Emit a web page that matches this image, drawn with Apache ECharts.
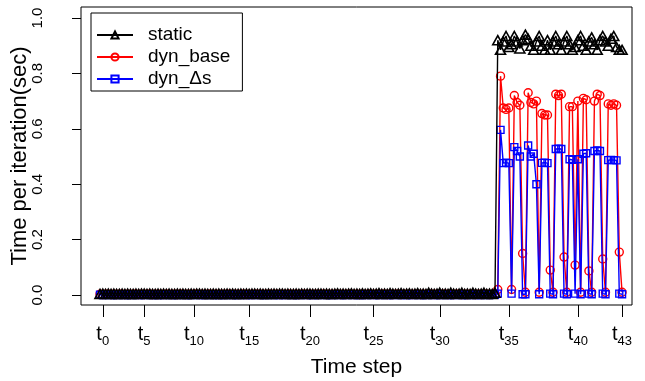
<!DOCTYPE html>
<html>
<head>
<meta charset="utf-8">
<script src="https://cdn.jsdelivr.net/npm/echarts@6/dist/echarts.min.js"></script>
<style>html,body{margin:0;padding:0;background:#fff}#c{width:645px;height:381px}</style>
</head>
<body>
<div id="c"></div>
<script>
// Tick labels: time steps and the iteration index at which each starts
const tickSteps = [0, 5, 10, 15, 20, 25, 30, 35, 40, 43];
const tickIters = [1, 16, 34, 54, 76, 99, 123, 148, 173, 189];
const yTicks = [0, 0.2, 0.4, 0.6, 0.8, 1.0];

// Time per iteration (sec), one value per iteration
const staticVals = [
0.004,0.005,0.004,0.005,0.004,0.005,0.004,0.004,0.005,0.004,0.005,0.004,0.004,0.005,0.004,0.005,
0.005,0.004,0.005,0.004,0.004,0.005,0.004,0.005,0.004,0.005,0.004,0.004,0.005,0.004,0.005,0.004,
0.004,0.005,0.004,0.005,0.005,0.004,0.005,0.004,0.004,0.005,0.004,0.005,0.004,0.004,0.005,0.004,
0.005,0.004,0.004,0.005,0.004,0.005,0.004,0.005,0.005,0.004,0.005,0.004,0.004,0.005,0.004,0.005,
0.004,0.005,0.005,0.004,0.005,0.004,0.004,0.005,0.004,0.005,0.004,0.005,0.005,0.004,0.004,0.005,
0.005,0.004,0.005,0.004,0.004,0.005,0.006,0.004,0.005,0.004,0.005,0.006,0.004,0.005,0.004,0.006,
0.004,0.005,0.006,0.004,0.005,0.007,0.004,0.005,0.004,0.007,0.005,0.004,0.005,0.007,0.004,0.005,
0.006,0.004,0.005,0.007,0.004,0.005,0.004,0.008,0.005,0.004,0.005,0.008,0.004,0.005,0.004,0.008,
0.005,0.004,0.005,0.008,0.004,0.005,0.004,0.008,0.005,0.004,0.005,0.008,0.004,0.005,0.004,0.008,
0.920,0.885,0.915,0.935,0.895,0.905,0.935,0.915,0.890,0.920,0.940,0.925,0.900,0.885,0.915,0.935,
0.900,0.885,0.920,0.885,0.915,0.935,0.905,0.885,0.915,0.935,0.905,0.885,0.895,0.920,0.935,0.900,
0.885,0.915,0.930,0.905,0.885,0.920,0.935,0.915,0.900,0.925,0.935,0.895,0.885,0.885
];
const dynBaseVals = [
0.003,0.002,0.003,0.003,0.002,0.003,0.002,0.003,0.003,0.002,0.003,0.002,0.003,0.003,0.002,0.003,
0.002,0.003,0.003,0.002,0.003,0.002,0.003,0.002,0.003,0.003,0.002,0.003,0.002,0.003,0.003,0.002,
0.003,0.002,0.003,0.003,0.002,0.003,0.002,0.003,0.003,0.002,0.003,0.002,0.003,0.002,0.003,0.003,
0.002,0.003,0.002,0.003,0.003,0.002,0.003,0.002,0.003,0.003,0.002,0.003,0.002,0.003,0.003,0.002,
0.003,0.002,0.003,0.002,0.003,0.003,0.002,0.003,0.002,0.003,0.003,0.002,0.003,0.002,0.003,0.002,
0.003,0.003,0.002,0.003,0.002,0.003,0.003,0.002,0.003,0.002,0.003,0.003,0.002,0.003,0.002,0.003,
0.002,0.003,0.003,0.002,0.003,0.002,0.003,0.003,0.002,0.003,0.002,0.003,0.003,0.002,0.003,0.002,
0.003,0.002,0.003,0.003,0.002,0.003,0.002,0.003,0.003,0.002,0.003,0.002,0.003,0.003,0.002,0.003,
0.002,0.003,0.003,0.002,0.003,0.002,0.003,0.003,0.002,0.003,0.002,0.003,0.003,0.002,0.003,0.003,
0.020,0.790,0.675,0.670,0.675,0.020,0.720,0.695,0.685,0.150,0.010,0.730,0.695,0.690,0.700,0.010,
0.655,0.650,0.650,0.090,0.010,0.725,0.720,0.725,0.137,0.010,0.680,0.680,0.108,0.700,0.010,0.710,
0.705,0.087,0.010,0.700,0.725,0.720,0.130,0.010,0.690,0.685,0.690,0.685,0.155,0.010
];
const dynDsVals = [
0.001,0.000,0.001,0.001,0.000,0.001,0.000,0.001,0.001,0.000,0.001,0.000,0.001,0.001,0.000,0.001,
0.000,0.001,0.001,0.000,0.001,0.000,0.001,0.000,0.001,0.001,0.000,0.001,0.000,0.001,0.001,0.000,
0.001,0.000,0.001,0.001,0.000,0.001,0.000,0.001,0.001,0.000,0.001,0.000,0.001,0.000,0.001,0.001,
0.000,0.001,0.000,0.001,0.001,0.000,0.001,0.000,0.001,0.001,0.000,0.001,0.000,0.001,0.001,0.000,
0.001,0.000,0.001,0.000,0.001,0.001,0.000,0.001,0.000,0.001,0.001,0.000,0.001,0.000,0.001,0.000,
0.001,0.001,0.000,0.001,0.000,0.001,0.001,0.000,0.001,0.000,0.001,0.001,0.000,0.001,0.000,0.001,
0.000,0.001,0.001,0.000,0.001,0.000,0.001,0.001,0.000,0.001,0.000,0.001,0.001,0.000,0.001,0.000,
0.001,0.000,0.001,0.001,0.000,0.001,0.000,0.001,0.001,0.000,0.001,0.000,0.001,0.001,0.000,0.001,
0.000,0.001,0.001,0.000,0.001,0.000,0.001,0.001,0.000,0.001,0.000,0.001,0.001,0.000,0.001,0.001,
0.005,0.596,0.476,0.478,0.476,0.005,0.534,0.520,0.500,0.003,0.003,0.540,0.500,0.510,0.400,0.003,
0.477,0.478,0.476,0.005,0.003,0.527,0.528,0.527,0.005,0.003,0.490,0.488,0.005,0.490,0.003,0.510,
0.512,0.005,0.003,0.520,0.522,0.520,0.005,0.003,0.487,0.488,0.487,0.486,0.005,0.003
];

const FONT = '"Liberation Sans", Arial, Helvetica, sans-serif';
const toXY = arr => arr.map((v, i) => [i, v]);

function mkSeries(name, vals, color, symbol, size, z, bw) {
  return {
    name, type: 'line', data: toXY(vals),
    symbol, symbolSize: size,
    lineStyle: { color, width: 1.4 },
    itemStyle: { color: 'rgba(255,255,255,0)', borderColor: color, borderWidth: bw },
    emphasis: { disabled: true },
    z
  };
}

const chart = echarts.init(document.getElementById('c'), null, { renderer: 'canvas' });
chart.setOption({
  animation: false,
  backgroundColor: '#fff',
  textStyle: { fontFamily: FONT },
  grid: { left: 81, top: 7, right: 13, bottom: 76, containLabel: false, outerBoundsMode: 'none', show: true, borderColor: '#000', borderWidth: 1, backgroundColor: 'transparent' },
  legend: {
    orient: 'vertical', left: 91, top: 13, z: 10,
    padding: [12, 12, 2, 5], itemGap: 2,
    itemWidth: 36, itemHeight: 9,
    borderColor: '#000', borderWidth: 1, backgroundColor: '#fff',
    textStyle: { fontSize: 19, fontFamily: FONT, color: '#000', lineHeight: 20, padding: [0, 0, 0, 10] },
    data: ['static', 'dyn_base', 'dyn_\u0394s']
  },
  xAxis: {
    type: 'value', min: -6.88, max: 192.6,
    name: 'Time step', nameLocation: 'middle', nameGap: 52,
    nameTextStyle: { fontSize: 21, fontFamily: FONT, color: '#000' },
    axisLine: { show: false, onZero: false },
    splitLine: { show: false },
    axisTick: { show: true, length: 12, customValues: tickIters, lineStyle: { color: '#000', width: 1 } },
    axisLabel: {
      customValues: tickIters, margin: 19, color: '#000',
      formatter: v => { const k = tickIters.indexOf(v); return '{t|t}{s|' + tickSteps[k] + '}'; },
      rich: {
        t: { fontSize: 20, fontFamily: FONT, color: '#000', lineHeight: 24, verticalAlign: 'top' },
        s: { fontSize: 13, fontFamily: FONT, color: '#000', lineHeight: 13, padding: [11, 0, 0, 0], verticalAlign: 'top' }
      }
    }
  },
  yAxis: {
    type: 'value', min: -0.036, max: 1.0397,
    name: 'Time per iteration(sec)', nameLocation: 'middle', nameGap: 50, nameRotate: 90, nameMoveOverlap: false,
    nameTextStyle: { fontSize: 22, fontFamily: FONT, color: '#000' },
    axisLine: { show: false, onZero: false },
    splitLine: { show: false },
    axisTick: { show: true, length: 9, customValues: yTicks, lineStyle: { color: '#000', width: 1 } },
    axisLabel: { customValues: yTicks, rotate: 90, margin: 36, fontSize: 15, fontFamily: FONT, color: '#000', formatter: v => v.toFixed(1) }
  },
  series: [
    mkSeries('static', staticVals, '#000000', 'triangle', [10, 9], 4, 1.6),
    mkSeries('dyn_base', dynBaseVals, '#ff0000', 'circle', 8, 2, 1.4),
    mkSeries('dyn_\u0394s', dynDsVals, '#0000ff', 'rect', 7, 3, 1.4)
  ]
});
</script>
</body>
</html>
